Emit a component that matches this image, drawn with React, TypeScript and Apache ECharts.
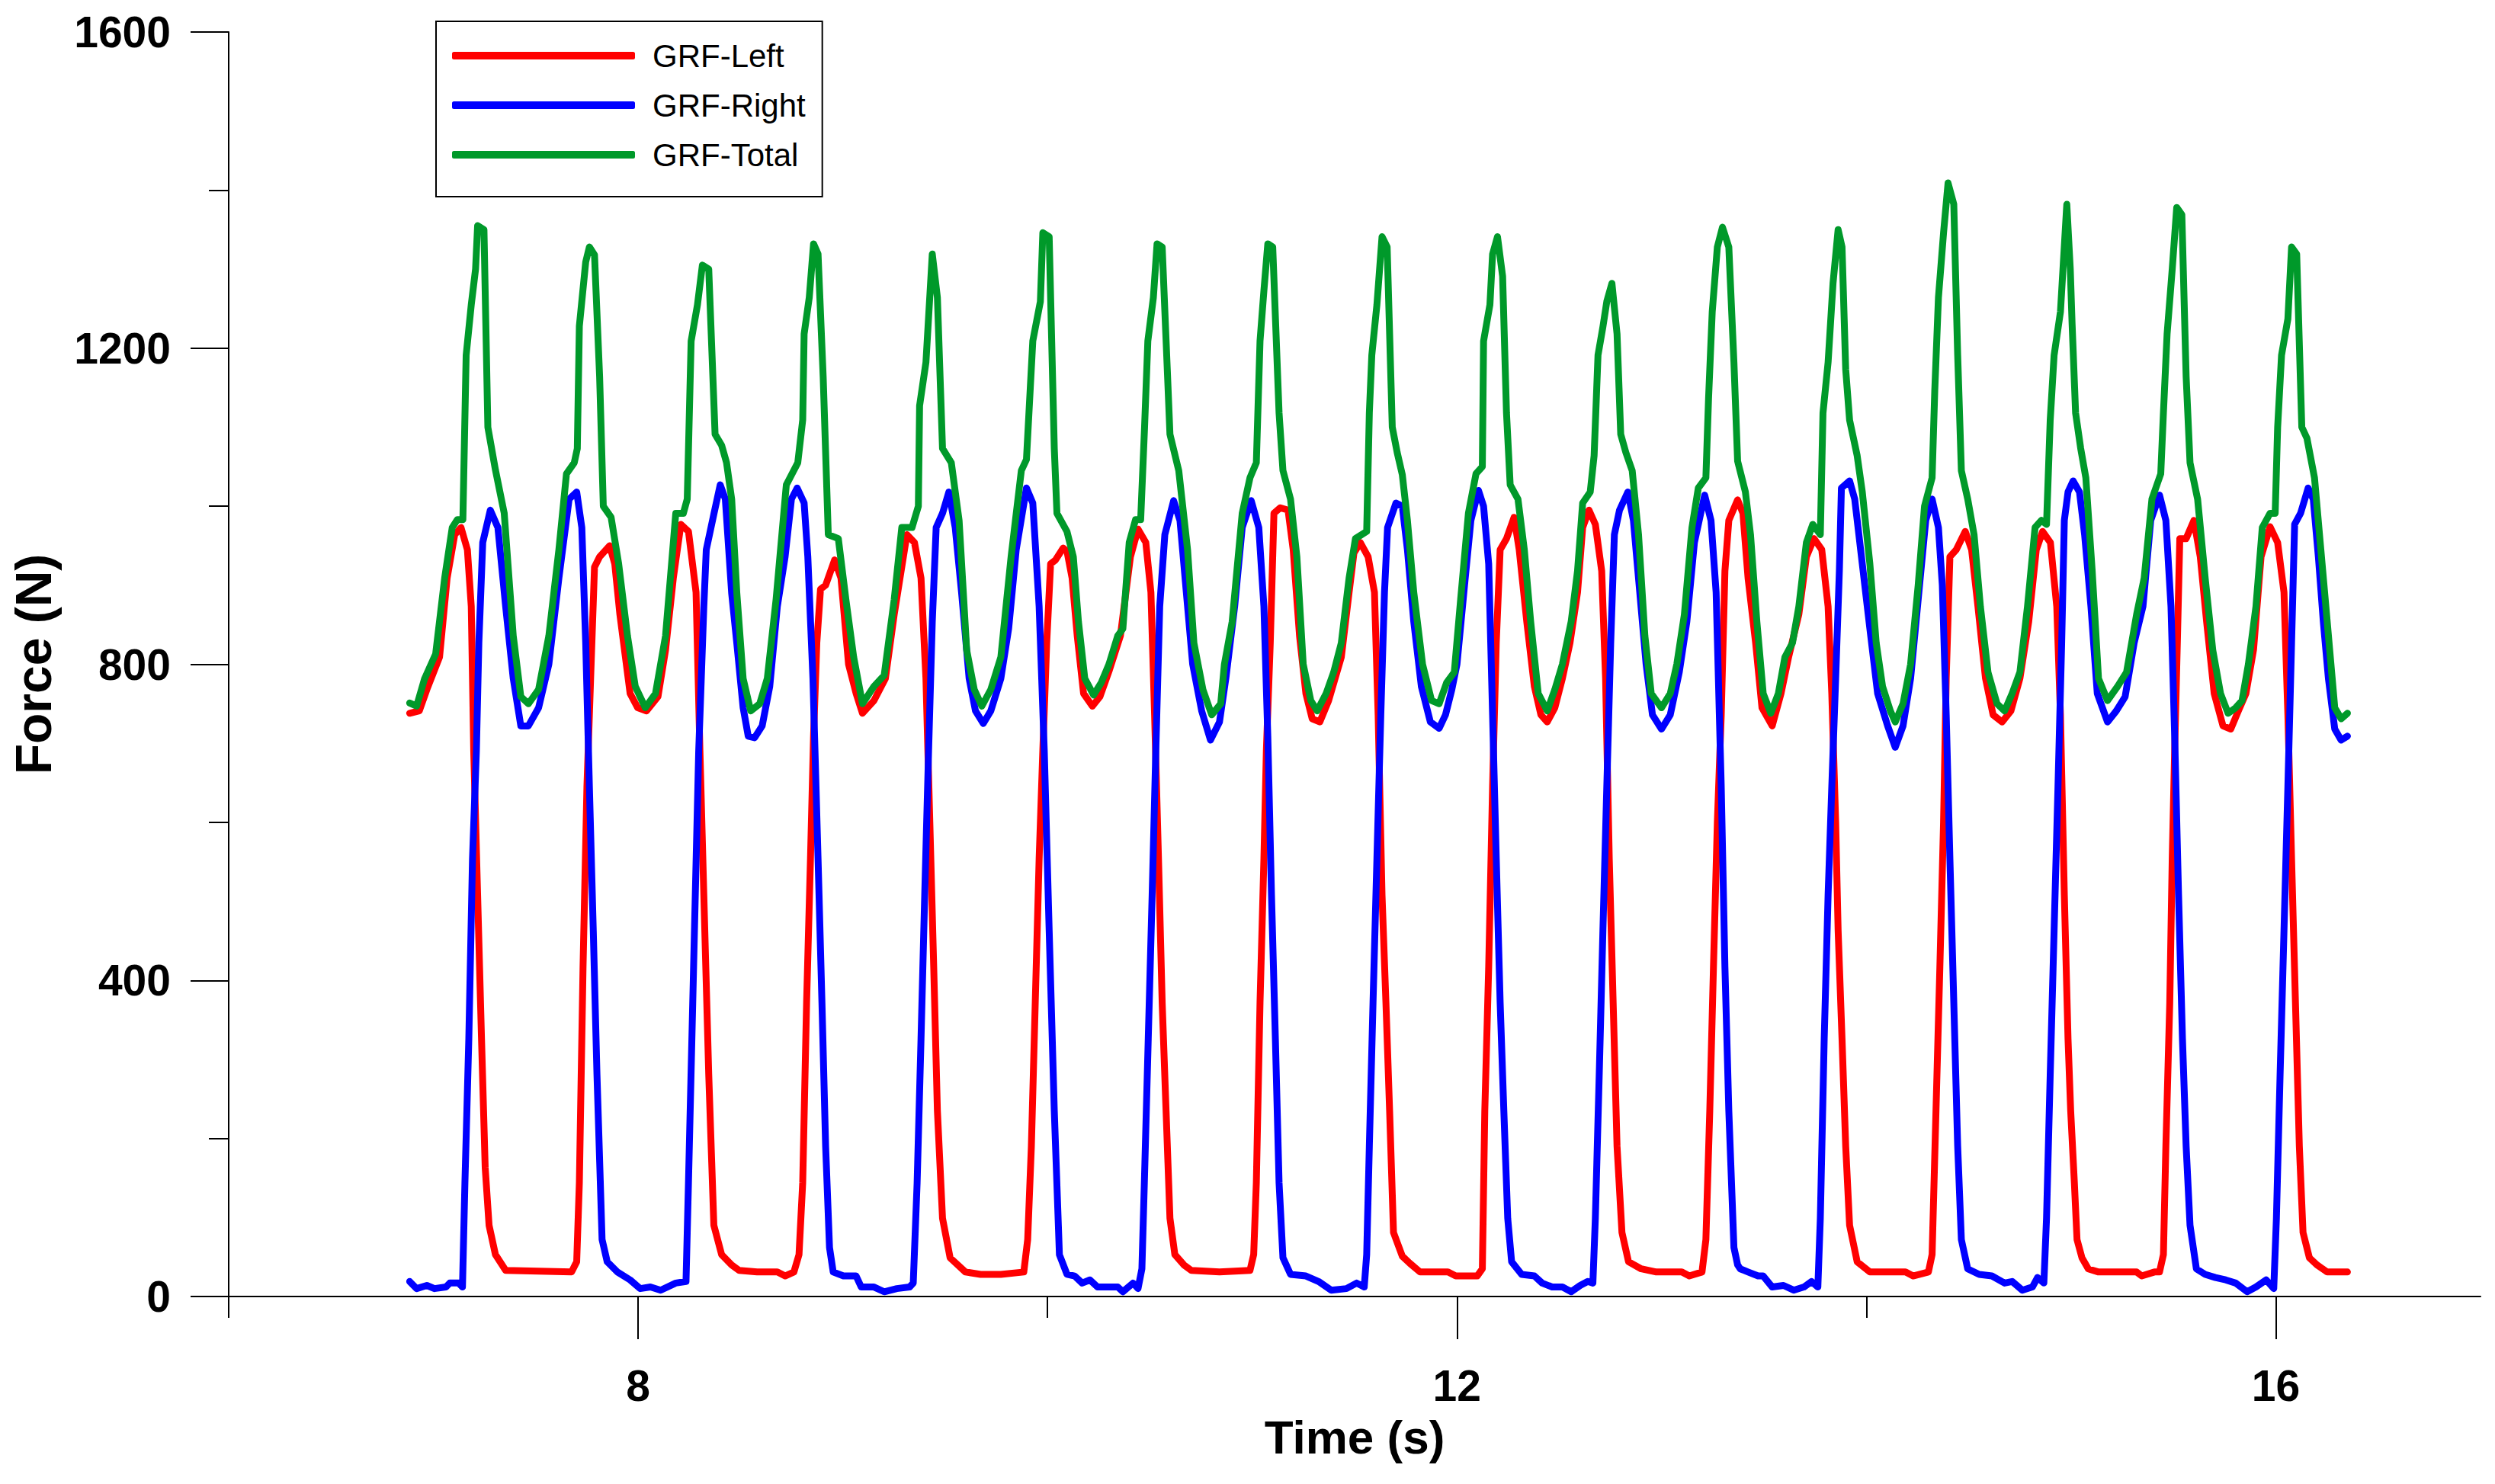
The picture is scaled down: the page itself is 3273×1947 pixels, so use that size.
import React, { useEffect, useRef } from "react";
import * as echarts from "echarts";

// ---------- data ----------
const leftTime = [
  6.884, 6.931, 6.968, 7.03, 7.067, 7.104, 7.135, 7.166, 7.185, 7.197, 7.216, 7.235, 7.253, 7.272, 7.303, 7.353,
  7.675, 7.7, 7.713, 7.731, 7.75, 7.768, 7.787, 7.812, 7.861, 7.886, 7.911, 7.961, 7.998, 8.041, 8.097, 8.134,
  8.172, 8.209, 8.246, 8.283, 8.302, 8.321, 8.345, 8.37, 8.408, 8.457,
  8.494, 8.581, 8.68, 8.718, 8.761, 8.786, 8.804, 8.823, 8.842, 8.857, 8.873, 8.891, 8.916, 8.96, 8.991, 9.028,
  9.065, 9.096, 9.152, 9.208, 9.251, 9.313, 9.35, 9.382, 9.406, 9.425, 9.444, 9.462, 9.487, 9.524, 9.599, 9.673,
  9.772, 9.884, 9.903, 9.921, 9.94, 9.959, 9.977, 9.996, 10.015, 10.039, 10.076, 10.095,
  10.12, 10.145, 10.176, 10.219, 10.256, 10.3, 10.356, 10.405, 10.442, 10.48, 10.505, 10.523, 10.542, 10.56,
  10.579, 10.598, 10.622, 10.666, 10.703, 10.84, 10.989, 11.007, 11.02, 11.038, 11.057, 11.069, 11.088, 11.106,
  11.137, 11.175, 11.2, 11.231, 11.262, 11.293, 11.33, 11.373, 11.435, 11.473, 11.497, 11.528, 11.566, 11.597,
  11.615, 11.634, 11.653, 11.671, 11.69, 11.733,
  11.77, 11.82, 11.956, 11.994, 12.099, 12.124, 12.136, 12.155, 12.174, 12.192, 12.211, 12.242, 12.279, 12.304,
  12.341, 12.378, 12.41, 12.441, 12.478, 12.515, 12.552, 12.589, 12.614, 12.645, 12.676, 12.707, 12.726, 12.744,
  12.763, 12.782, 12.806, 12.838, 12.9, 12.974, 13.098, 13.135, 13.197, 13.216, 13.235, 13.253, 13.272, 13.291,
  13.309, 13.328, 13.371,
  13.397, 13.422, 13.459, 13.49, 13.54, 13.583, 13.62, 13.67, 13.707, 13.744, 13.782, 13.813, 13.831, 13.85,
  13.862, 13.881, 13.899, 13.918, 13.955, 14.017, 14.191, 14.228, 14.303, 14.321, 14.34, 14.359, 14.377, 14.39,
  14.408, 14.439, 14.483, 14.514, 14.545, 14.582, 14.619, 14.663, 14.706, 14.75, 14.793, 14.83, 14.861, 14.899,
  14.93, 14.948, 14.967, 14.985, 14.998,
  15.016, 15.029, 15.053, 15.084, 15.134, 15.32, 15.345, 15.407, 15.432, 15.451, 15.463, 15.482, 15.494, 15.506,
  15.519, 15.531, 15.562, 15.6, 15.631, 15.662, 15.699, 15.742, 15.78, 15.817, 15.854, 15.891, 15.928, 15.972,
  16.009, 16.04, 16.059, 16.077, 16.096, 16.115, 16.133, 16.164, 16.201, 16.251, 16.35,
];
const leftForce = [
  738, 741, 768, 809, 909, 964, 973, 945, 873, 690, 508, 326, 163, 90, 53, 33,
  31, 44, 144, 417, 645, 782, 923, 936, 950, 927, 863, 763, 745, 741, 759, 818,
  909, 977, 968, 891, 690, 508, 281, 90, 53, 40,
  33, 31, 31, 26, 31, 53, 144, 372, 554, 709, 827, 895, 900, 932, 909, 800,
  763, 738, 754, 782, 863, 964, 954, 909, 782, 600, 417, 235, 99, 49, 31, 28,
  28, 31, 72, 190, 372, 554, 691, 827, 927, 932, 947, 943,
  909, 836, 763, 747, 759, 791, 836, 936, 971, 954, 891, 736, 554, 372,
  235, 99, 53, 40, 33, 31, 33, 53, 144, 372, 554, 691, 827, 991,
  998, 995, 945, 836, 763, 731, 727, 754, 809, 891, 941, 954, 936, 891,
  736, 508, 372, 235, 81, 51,
  42, 31, 31, 26, 26, 35, 235, 417, 645, 827, 945, 959, 986, 945,
  854, 772, 736, 727, 745, 782, 827, 891, 973, 995, 977, 918, 782, 554,
  372, 190, 81, 44, 35, 31, 31, 26, 31, 72, 235, 417, 600, 736,
  918, 982, 1008,
  991, 909, 827, 745, 722, 763, 809, 863, 936, 959, 945, 873, 763, 600,
  463, 326, 190, 90, 44, 31, 31, 26, 31, 53, 235, 417, 600, 782,
  936, 945, 968, 945, 873, 782, 736, 727, 741, 782, 854, 945, 968, 954,
  873, 736, 508, 326, 235,
  144, 72, 49, 35, 31, 31, 26, 31, 31, 53, 190, 372, 554, 691,
  827, 959, 959, 982, 936, 854, 763, 722, 718, 741, 763, 818, 936, 974,
  954, 891, 736, 554, 372, 190, 81, 49, 40, 31, 31,
];

const rightTime = [
  6.884, 6.918, 6.968, 7.005, 7.061, 7.08, 7.123, 7.142, 7.154, 7.173, 7.191, 7.21, 7.222, 7.241, 7.278, 7.315,
  7.353, 7.39, 7.427, 7.464, 7.514, 7.564, 7.613, 7.663, 7.7, 7.725, 7.744, 7.762, 7.781, 7.799, 7.824, 7.849,
  7.899, 7.961, 8.01, 8.06, 8.11, 8.184, 8.234, 8.246, 8.271, 8.296, 8.321, 8.333, 8.37, 8.401, 8.426, 8.457,
  8.482, 8.513, 8.538, 8.569, 8.606, 8.643, 8.68, 8.718, 8.749, 8.777, 8.811, 8.829, 8.854, 8.879, 8.898, 8.916,
  8.935, 8.953, 9.003, 9.065, 9.09, 9.152, 9.202, 9.264, 9.326, 9.344, 9.363, 9.382, 9.4, 9.419, 9.437, 9.456,
  9.487, 9.518, 9.549, 9.58, 9.617, 9.648, 9.686, 9.723, 9.772, 9.81, 9.847, 9.897, 9.928, 9.959, 9.984, 10.008,
  10.033, 10.058, 10.095,
  10.132, 10.169, 10.207, 10.244, 10.343, 10.368, 10.418, 10.442, 10.461, 10.473, 10.492, 10.511, 10.529, 10.548,
  10.573, 10.616, 10.647, 10.678, 10.709, 10.753, 10.796, 10.84, 10.871, 10.914, 10.951, 10.995, 11.032, 11.057,
  11.076, 11.094, 11.113, 11.131, 11.15, 11.187, 11.262, 11.324, 11.386, 11.46, 11.51, 11.547, 11.559, 11.572,
  11.59, 11.609, 11.628, 11.646, 11.661, 11.702, 11.733,
  11.758, 11.789, 11.826, 11.87, 11.913, 11.944, 11.975, 12.0, 12.037, 12.068, 12.105, 12.13, 12.155, 12.174,
  12.192, 12.211, 12.229, 12.248, 12.267, 12.316, 12.378, 12.416, 12.465, 12.515, 12.558, 12.602, 12.639, 12.664,
  12.676, 12.695, 12.713, 12.732, 12.751, 12.769, 12.794, 12.835, 12.862, 12.893, 12.924, 12.955, 12.999, 13.042,
  13.086, 13.123, 13.16, 13.21, 13.241, 13.266, 13.291, 13.309, 13.328, 13.353, 13.371,
  13.384, 13.422, 13.471, 13.496, 13.54, 13.595, 13.645, 13.695, 13.732, 13.763, 13.775, 13.794, 13.813, 13.831,
  13.85, 13.868, 13.878, 13.918, 13.943, 13.98, 14.017, 14.055, 14.104, 14.141, 14.179, 14.216, 14.253, 14.29,
  14.321, 14.352, 14.371, 14.39, 14.408, 14.427, 14.446, 14.464, 14.495, 14.551, 14.613, 14.675, 14.712, 14.762,
  14.811, 14.836, 14.867, 14.88, 14.898, 14.917, 14.936, 14.954, 14.967, 14.985, 15.01,
  15.041, 15.066, 15.097, 15.128, 15.178, 15.221, 15.264, 15.308, 15.351, 15.389, 15.432, 15.463, 15.488, 15.506,
  15.525, 15.544, 15.562, 15.581, 15.612, 15.655, 15.705, 15.755, 15.804, 15.86, 15.903, 15.953, 15.99, 16.003,
  16.021, 16.04, 16.059, 16.077, 16.092, 16.121, 16.158, 16.183, 16.208, 16.232, 16.257, 16.288, 16.319, 16.35,
];
const rightForce = [
  19, 10, 14, 10, 12, 17, 17, 12, 144, 326, 554, 691, 827, 954, 995, 973,
  873, 782, 722, 722, 745, 800, 909, 1009, 1018, 973, 827, 645, 463, 281, 72, 44,
  31, 21, 10, 12, 8, 17, 19, 144, 417, 690, 873, 945, 990, 1027, 1009, 890,
  827, 745, 709, 707, 722, 772, 873, 936, 1009, 1023, 1004, 936, 782, 554, 372, 190,
  62, 31, 26, 26, 12, 12, 6, 10, 12, 17, 144, 326, 508, 691, 854, 973,
  991, 1018, 973, 891, 782, 741, 725, 741, 782, 845, 945, 1023, 1004, 873, 691, 463,
  235, 53, 28,
  26, 17, 21, 12, 12, 6, 17, 10, 35, 144, 326, 508, 691, 873,
  964, 1007, 982, 891, 800, 741, 704, 727, 782, 873, 973, 1007, 973, 873,
  709, 508, 326, 144, 49, 28, 26, 19, 8, 10, 17, 12, 53, 190,
  372, 554, 736, 891, 973, 1004, 1000,
  945, 854, 772, 727, 719, 736, 768, 800, 900, 982, 1020, 1000, 927, 736,
  554, 372, 235, 99, 44, 28, 26, 17, 12, 12, 6, 14, 19, 17,
  99, 281, 463, 645, 827, 964, 995, 1018, 982, 891, 800, 736, 718, 736,
  790, 854, 954, 1014, 982, 891, 645, 417, 235, 62, 40,
  35, 31, 26, 26, 12, 14, 8, 12, 19, 12, 99, 326, 508, 645,
  782, 918, 1023, 1032, 1009, 927, 845, 763, 722, 695, 722, 782, 882, 982,
  1009, 973, 900, 736, 554, 372, 190, 72, 35, 28, 26, 17, 19, 8,
  12, 24, 17, 99, 281, 463, 645, 827, 982, 1018, 1032,
  1018, 964, 873, 763, 727, 741, 759, 827, 873, 982, 1014, 982, 873, 709,
  508, 326, 190, 90, 35, 28, 24, 21, 17, 6, 12, 21, 10, 99,
  281, 463, 645, 827, 977, 991, 1023, 1009, 936, 854, 782, 718, 704, 709,
];

const totalTime = [
  6.884, 6.918, 6.956, 7.011, 7.055, 7.092, 7.117, 7.144, 7.16, 7.185, 7.206, 7.216, 7.247, 7.266, 7.303, 7.346,
  7.39, 7.427, 7.464, 7.514, 7.564, 7.613, 7.65, 7.688, 7.703, 7.713, 7.744, 7.762, 7.787, 7.812, 7.83, 7.868,
  7.905, 7.948, 7.986, 8.035, 8.085, 8.134, 8.184, 8.221, 8.24, 8.259, 8.29, 8.314, 8.345, 8.376, 8.408, 8.432,
  8.457,
  8.482, 8.513, 8.55, 8.594, 8.631, 8.674, 8.724, 8.78, 8.804, 8.811, 8.836, 8.857, 8.879, 8.904, 8.929, 8.978,
  9.015, 9.053, 9.096, 9.152, 9.202, 9.251, 9.288, 9.338, 9.369, 9.375, 9.406, 9.437, 9.462, 9.487, 9.53, 9.568,
  9.605, 9.642, 9.679, 9.723, 9.772, 9.822, 9.872, 9.897, 9.928, 9.965, 9.977, 10.008, 10.033, 10.046, 10.095,
  10.126, 10.151, 10.182, 10.225, 10.263, 10.3, 10.343, 10.368, 10.399, 10.43, 10.455, 10.474, 10.49, 10.517,
  10.535, 10.56, 10.585, 10.598, 10.641, 10.684, 10.715, 10.759, 10.802, 10.846, 10.864, 10.902, 10.951, 10.989,
  11.02, 11.038, 11.057, 11.076, 11.1, 11.131, 11.15, 11.187, 11.218, 11.249, 11.286, 11.317, 11.361, 11.398,
  11.435, 11.473, 11.504, 11.559, 11.572, 11.584, 11.609, 11.634, 11.659, 11.684, 11.708, 11.733,
  11.758, 11.789, 11.832, 11.876, 11.913, 11.95, 11.987, 12.018, 12.056, 12.093, 12.124, 12.13, 12.161, 12.174,
  12.198, 12.223, 12.242, 12.26, 12.298, 12.329, 12.36, 12.397, 12.441, 12.478, 12.515, 12.558, 12.589, 12.614,
  12.651, 12.67, 12.689, 12.713, 12.732, 12.757, 12.782, 12.8, 12.825, 12.856, 12.887, 12.918, 12.949, 12.999,
  13.042, 13.074, 13.111, 13.148, 13.179, 13.216, 13.229, 13.247, 13.272, 13.297, 13.328, 13.353, 13.371,
  13.409, 13.434, 13.465, 13.496, 13.533, 13.57, 13.602, 13.639, 13.67, 13.707, 13.738, 13.775, 13.788, 13.813,
  13.837, 13.862, 13.881, 13.899, 13.918, 13.955, 13.98, 14.017, 14.048, 14.079, 14.117, 14.141, 14.179, 14.216,
  14.253, 14.284, 14.321, 14.334, 14.352, 14.377, 14.399, 14.427, 14.446, 14.464, 14.495, 14.526, 14.557, 14.594,
  14.638, 14.675, 14.712, 14.75, 14.787, 14.824, 14.855, 14.88, 14.898, 14.917, 14.948, 14.979, 14.996, 15.005,
  15.022, 15.047, 15.072, 15.103, 15.134, 15.178, 15.227, 15.271, 15.32, 15.357, 15.395, 15.438, 15.451, 15.469,
  15.494, 15.516, 15.541, 15.562, 15.581, 15.618, 15.655, 15.692, 15.73, 15.767, 15.804, 15.835, 15.866, 15.903,
  15.934, 15.972, 15.997, 16.009, 16.028, 16.059, 16.077, 16.102, 16.127, 16.152, 16.189, 16.22, 16.251, 16.288,
  16.319, 16.35,
];
const totalForce = [
  751, 747, 781, 813, 909, 973, 983, 983, 1191, 1255, 1300, 1355, 1350, 1100, 1046, 991,
  836, 759, 750, 768, 836, 945, 1041, 1055, 1073, 1228, 1309, 1328, 1318, 1164, 1000, 986,
  927, 836, 772, 745, 763, 836, 991, 991, 1009, 1209, 1255, 1305, 1300, 1091, 1077, 1055,
  1009,
  891, 782, 741, 750, 782, 882, 1027, 1055, 1109, 1218, 1264, 1332, 1319, 1164, 964, 959,
  882, 809, 750, 772, 786, 882, 973, 973, 1000, 1127, 1182, 1319, 1264, 1073, 1055, 982,
  818, 768, 747, 768, 809, 936, 1045, 1059, 1209, 1259, 1346, 1341, 1073, 991, 968,
  936, 854, 782, 761, 777, 800, 836, 845, 954, 983, 983, 1100, 1209, 1264,
  1332, 1328, 1173, 1091, 1045, 945, 827, 768, 736, 750, 800, 854, 991, 1036,
  1055, 1209, 1273, 1332, 1328, 1118, 1045, 1009, 936, 800, 754, 741, 763, 790,
  827, 909, 959, 968, 1118, 1191, 1255, 1341, 1328, 1100, 1068, 1040,
  982, 891, 800, 754, 750, 777, 790, 882, 991, 1041, 1050, 1209, 1255, 1319,
  1341, 1291, 1118, 1027, 1009, 945, 854, 763, 741, 768, 800, 854, 918, 1004,
  1018, 1064, 1191, 1227, 1259, 1282, 1218, 1091, 1068, 1045, 964, 836, 763, 745,
  763, 800, 863, 973, 1023, 1036, 1136, 1246, 1328, 1353, 1328, 1182, 1057,
  1018, 964, 854, 763, 738, 763, 809, 827, 873, 954, 977, 964, 1118, 1182,
  1282, 1350, 1328, 1173, 1109, 1064, 1018, 927, 827, 772, 741, 727, 750, 800,
  900, 1000, 1036, 1146, 1264, 1346, 1409, 1382, 1191, 1045, 1009, 964, 873, 790,
  750, 741, 763, 790, 873, 973, 982, 977, 1109, 1191, 1246, 1382, 1300, 1230,
  1118, 1073, 1036, 918, 782, 754, 772, 790, 863, 909, 1009, 1041, 1118, 1218,
  1300, 1378, 1369, 1164, 1055, 1009, 909, 818, 763, 738, 745, 754, 800, 873,
  973, 991, 991, 1100, 1191, 1237, 1328, 1319, 1100, 1086, 1036, 945, 854, 745,
  731, 738,
];

const seriesNames = ["GRF-Left", "GRF-Right", "GRF-Total"];
const seriesColors = ["#FF0000", "#0000FF", "#00992A"];
const yTicksMajor = [0, 400, 800, 1200, 1600];
const xTicksMajor = [8, 12, 16];
const xTicksMinor = [6, 10, 14];

const zip = (t: number[], v: number[]) => t.map((x, i) => [x, v[i]]);

const FONT = "Liberation Sans, Arial, sans-serif";

export default function App() {
  const ref = useRef<HTMLDivElement>(null);

  useEffect(() => {
    if (!ref.current) return;
    const chart = echarts.init(ref.current, null, { renderer: "svg" });
    const datasets = [zip(leftTime, leftForce), zip(rightTime, rightForce), zip(totalTime, totalForce)];

    chart.setOption({
      animation: false,
      backgroundColor: "#ffffff",
      grid: { left: 300, right: 19, top: 42, bottom: 246, containLabel: false, outerBoundsMode: "none" },
      legend: {
        orient: "vertical",
        left: 572,
        top: 28,
        data: seriesNames,
        icon: "roundRect",
        itemWidth: 240,
        itemHeight: 10,
        itemGap: 15,
        padding: [20, 22, 30, 21],
        borderColor: "#000",
        borderWidth: 2,
        backgroundColor: "#fff",
        textStyle: {
          fontFamily: FONT,
          fontSize: 42,
          color: "#000",
          lineHeight: 50,
          padding: [0, 0, 0, 18],
        },
      },
      xAxis: [
        {
          type: "value",
          min: 6,
          max: 17,
          position: "bottom",
          axisLine: { show: true, onZero: false, lineStyle: { color: "#000", width: 2 } },
          axisTick: { show: true, length: 28, customValues: xTicksMinor, lineStyle: { color: "#000", width: 2 } },
          axisLabel: { show: false },
          splitLine: { show: false },
        },
        {
          type: "value",
          min: 6,
          max: 17,
          position: "bottom",
          name: "Time (s)",
          nameLocation: "middle",
          nameGap: 153,
          nameMoveOverlap: false,
          nameTextStyle: { fontFamily: FONT, fontSize: 62, fontWeight: "bold", color: "#000" },
          axisLine: { show: false, onZero: false },
          axisTick: { show: true, length: 56, customValues: xTicksMajor, lineStyle: { color: "#000", width: 2 } },
          axisLabel: {
            show: true,
            customValues: xTicksMajor,
            margin: 88,
            fontFamily: FONT,
            fontSize: 57,
            fontWeight: "bold",
            color: "#000",
            formatter: (v: number) => String(v),
          },
          splitLine: { show: false },
        },
      ],
      yAxis: {
        type: "value",
        min: 0,
        max: 1600,
        interval: 400,
        name: "Force (N)",
        nameLocation: "middle",
        nameRotate: 90,
        nameGap: 223,
        nameMoveOverlap: false,
        nameTextStyle: { fontFamily: FONT, fontSize: 66, fontWeight: "bold", color: "#000" },
        axisLine: { show: true, lineStyle: { color: "#000", width: 2 } },
        axisTick: { show: true, length: 50, lineStyle: { color: "#000", width: 2 } },
        minorTick: { show: true, splitNumber: 2, length: 26, lineStyle: { color: "#000", width: 2 } },
        axisLabel: {
          show: true,
          customValues: yTicksMajor,
          margin: 76,
          fontFamily: FONT,
          fontSize: 57,
          fontWeight: "bold",
          color: "#000",
          formatter: (v: number) => String(v),
        },
        splitLine: { show: false },
        minorSplitLine: { show: false },
      },
      series: seriesNames.map((name, i) => ({
        name,
        type: "line",
        xAxisIndex: 0,
        yAxisIndex: 0,
        data: datasets[i],
        showSymbol: false,
        symbol: "none",
        color: seriesColors[i],
        lineStyle: { color: seriesColors[i], width: 9, cap: "round", join: "round" },
        itemStyle: { color: seriesColors[i] },
        z: 2 + i,
      })),
    });

    return () => chart.dispose();
  }, []);

  return (
    <div
      ref={ref}
      style={{ position: "fixed", left: 0, top: 0, width: "3273px", height: "1947px", background: "#fff" }}
    />
  );
}
